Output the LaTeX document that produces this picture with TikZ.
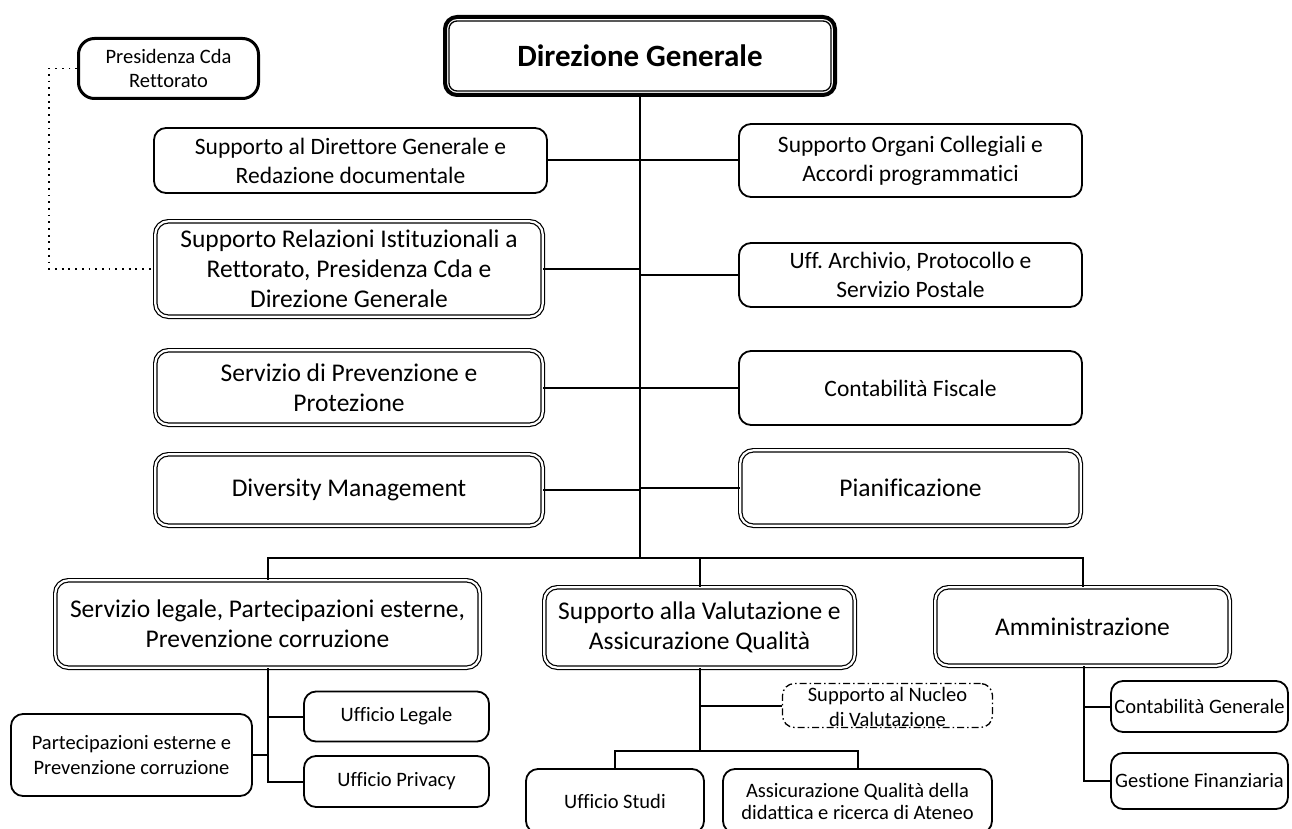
\documentclass[tikz,border=0pt]{standalone}
\usepackage{fontspec}
\setmainfont{Carlito}[Ligatures=NoCommon]
\usetikzlibrary{calc}
\frenchspacing
\tikzset{
  box/.style={draw, line width=1.8pt, rounded corners=12pt, align=center, inner sep=0pt},
  dbox/.style={draw, double, double distance=2.2pt, line width=1.2pt, rounded corners=13pt, align=center, inner sep=0pt},
  conn/.style={line width=2pt},
  dotline/.style={line width=1.8pt, dash pattern=on 1.8pt off 4.9pt},
  fmain/.style={font=\fontsize{23.5}{29}\selectfont},
  fbig/.style={font=\fontsize{25.5}{30}\selectfont},
  fsmall/.style={font=\fontsize{20.5}{24.5}\selectfont},
}
\begin{document}
\begin{tikzpicture}[x=1pt,y=-1pt]
\useasboundingbox (0,0) rectangle (1292,829);
\fill[white] (0,0) rectangle (1292,829);
\clip (0,0) rectangle (1292,829);

% top
\node[box, line width=3pt, rounded corners=16pt, fsmall, minimum width=180pt, minimum height=60pt] (pres) at (168.5,68.5) {Presidenza Cda\\Rettorato};
\node[draw, line width=4pt, rounded corners=12pt, inner sep=0pt, minimum width=390pt, minimum height=78pt, font=\fontsize{31}{37}\selectfont\bfseries] (dg) at (640,56) {Direzione Generale};
\draw[line width=1.3pt, rounded corners=8pt] ([shift={(6pt,-6pt)}]dg.north west) rectangle ([shift={(-6pt,6pt)}]dg.south east);

% left column
\node[box, fmain, minimum width=393pt, minimum height=65pt] (dir) at (350.5,160.5) {Supporto al Direttore Generale e\\Redazione documentale};
\node[dbox, fbig, minimum width=387.4pt, minimum height=95.4pt] (rel) at (349,269) {Supporto Relazioni Istituzionali a\\Rettorato, Presidenza Cda e\\Direzione Generale};
\node[dbox, fbig, minimum width=387.4pt, minimum height=74.4pt] (prev) at (349,387.5) {Servizio di Prevenzione e\\Protezione};
\node[dbox, fbig, minimum width=387.4pt, minimum height=71.4pt] (div) at (349,490) {Diversity Management};

% right column
\node[box, fmain, minimum width=343pt, minimum height=73pt] (org) at (910.5,160.5) {Supporto Organi Collegiali e\\Accordi programmatici};
\node[box, fmain, minimum width=343pt, minimum height=64pt] (arc) at (910.5,275) {Uff. Archivio, Protocollo e\\Servizio Postale};
\node[box, fmain, minimum width=343pt, minimum height=74pt] (fis) at (910.5,388) {Contabilità Fiscale};
\node[dbox, fbig, minimum width=340.4pt, minimum height=75.4pt] (pia) at (910.5,488) {Pianificazione};

% bottom level
\node[dbox, fbig, minimum width=424.4pt, minimum height=87.4pt] (leg) at (267.5,624) {Servizio legale, Partecipazioni esterne,\\Prevenzione corruzione};
\node[dbox, fbig, minimum width=310.4pt, minimum height=80.4pt] (val) at (699.5,627.5) {Supporto alla Valutazione e\\Assicurazione Qualità};
\node[dbox, fbig, minimum width=294.4pt, minimum height=78.4pt] (amm) at (1082.5,626.5) {Amministrazione};

% sub-offices
\node[box, fsmall, minimum width=185pt, minimum height=50pt] (uleg) at (396.5,716.5) {Ufficio Legale};
\node[box, fsmall, minimum width=185pt, minimum height=51pt] (upri) at (396.5,781.5) {Ufficio Privacy};
\node[box, fsmall, minimum width=241pt, minimum height=82pt] (part) at (131.5,755) {Partecipazioni esterne e\\Prevenzione corruzione};
\node[draw, line width=1.3pt, dash pattern=on 7pt off 3pt on 1.5pt off 3pt, rounded corners=12pt, inner sep=0pt, minimum width=210pt, minimum height=44pt] (nuc) at (887.5,705.5) {};
\node[fsmall, align=center, inner sep=0pt] (nuctext) at (887.5,707) {Supporto al Nucleo\\di Valutazione};
\node[box, fsmall, minimum width=178pt, minimum height=64pt] (stu) at (615,801) {Ufficio Studi};
\node[box, fsmall, minimum width=269pt, minimum height=64pt, font=\fontsize{20.5}{22}\selectfont] (aq) at (857.5,801) {Assicurazione Qualità della\\didattica e ricerca di Ateneo};
\node[box, fsmall, minimum width=177pt, minimum height=51pt] (cg) at (1199.5,706.5) {Contabilità Generale};
\node[box, fsmall, minimum width=177pt, minimum height=56pt] (gf) at (1199.5,781) {Gestione Finanziaria};

% connectors
\coordinate (bus) at (640,558);
\coordinate (vb) at (699.5,751);
\draw[conn] (dg.south) -- (bus);
\draw[conn] (leg.north) |- (bus) -| (amm.north);
\draw[conn] (bus) -| (val.north);
\foreach \n in {dir,rel,prev,div} \draw[conn] (\n.east) -- (\n.east -| dg.south);
\foreach \n in {org,arc,fis,pia} \draw[conn] (\n.west -| dg.south) -- (\n.west);
\draw[dotline] (pres.west) -- ++(-28pt,0) |- (rel.west);

\draw[conn] (leg.south) |- (upri.west);
\draw[conn] (leg.south |- uleg.west) -- (uleg.west);
\draw[conn] (part.east) -- (part.east -| leg.south);

\draw[conn] (val.south) -- (vb);
\draw[conn] (val.south |- nuc.west) -- (nuc.west);
\draw[conn] (stu.north) |- (vb) -| (aq.north);

\draw[conn] ([xshift=1.5pt]amm.south) |- (cg.west);
\draw[conn] ([xshift=1.5pt]amm.south) |- (gf.west);
\end{tikzpicture}
\end{document}
